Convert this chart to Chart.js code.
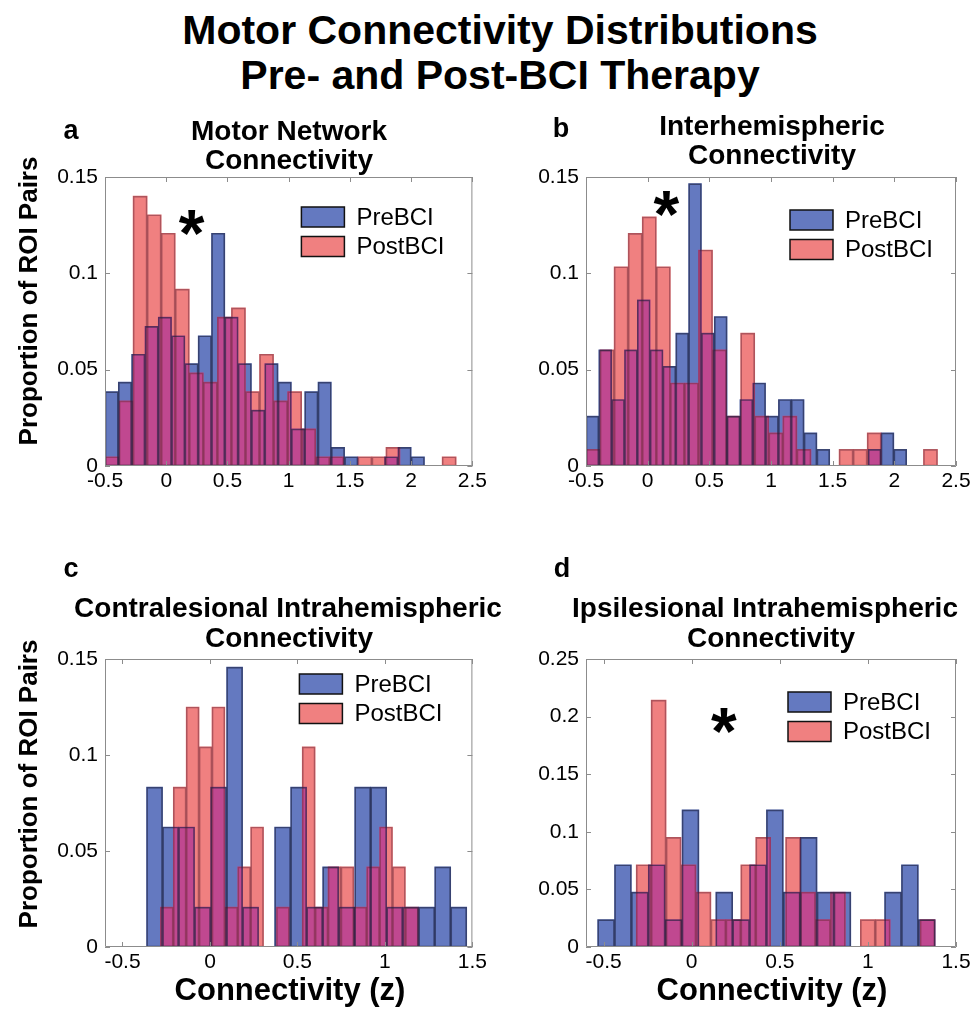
<!DOCTYPE html>
<html>
<head>
<meta charset="utf-8">
<script src="https://cdn.jsdelivr.net/npm/chart.js@4.4.1/dist/chart.umd.min.js"></script>
<style>
  body { margin: 0; background: #fff; }
  #fig { position: relative; width: 975px; height: 1011px; overflow: hidden; font-family: "Liberation Sans", Arial, sans-serif; color: #000; }
  #fig canvas { position: absolute; }
  .t { position: absolute; font-weight: bold; white-space: nowrap; line-height: 1; }
</style>
</head>
<body>
<div id="fig">
  <canvas id="pa" width="490" height="420" style="left:0;top:100px"></canvas>
  <canvas id="pb" width="485" height="420" style="left:490px;top:100px"></canvas>
  <canvas id="pc" width="490" height="431" style="left:0;top:580px"></canvas>
  <canvas id="pd" width="485" height="431" style="left:490px;top:580px"></canvas>
</div>
<script>
// ---- data (proportion of ROI pairs per bin) ----
// each series: left edge of first bin, bin width, bar heights
const aPreEdge0 = -0.5, aPreBinW = 0.1087;
const aPre = [0.0386, 0.0435, 0.058, 0.0725, 0.0773, 0.0676, 0.0531, 0.0676, 0.1208, 0.0773, 0.0531, 0.029,
  0.0531, 0.0435, 0.0193, 0.0386, 0.0435, 0.0097, 0.0048, 0, 0, 0.0048, 0.0097, 0.0048];
const aPostEdge0 = -0.5, aPostBinW = 0.1147;
const aPost = [0.0048, 0.0338, 0.1401, 0.1304, 0.1208, 0.0918, 0.0483, 0.0435, 0.0773, 0.0821, 0.0386, 0.058,
  0.0338, 0.0386, 0.0193, 0.0048, 0.0048, 0, 0.0048, 0.0048, 0.0097, 0, 0, 0, 0.0048];

const bPreEdge0 = -0.5, bPreBinW = 0.104;
const bPre = [0.0259, 0.0603, 0.0345, 0.0603, 0.0862, 0.0603, 0.0517, 0.069, 0.1466, 0.069, 0.0776, 0.0259,
  0.0345, 0.0431, 0.0259, 0.0345, 0.0345, 0.0172, 0.0086, 0, 0, 0, 0.0086, 0.0172, 0.0086];
const bPostEdge0 = -0.5, bPostBinW = 0.114;
const bPost = [0.0086, 0.0603, 0.1034, 0.1207, 0.1293, 0.1034, 0.0431, 0.0431, 0.1121, 0.0603, 0.0259, 0.069,
  0.0259, 0.0172, 0.0259, 0.0086, 0, 0, 0.0086, 0.0086, 0.0172, 0, 0, 0, 0.0086];

const cPreEdge0 = -0.3625, cPreBinW = 0.0915;
const cPre = [0.0833, 0.0625, 0.0625, 0.0208, 0.0833, 0.1458, 0.0208, 0, 0.0625, 0.0833, 0.0208, 0.0417,
  0.0208, 0.0833, 0.0833, 0.0208, 0.0208, 0.0208, 0.0417, 0.0208];
const cPostEdge0 = -0.2834, cPostBinW = 0.0737;
const cPost = [0.0208, 0.0833, 0.125, 0.1042, 0.125, 0.0208, 0.0417, 0.0625, 0, 0.0208, 0, 0.1042,
  0.0208, 0.0417, 0.0417, 0.0208, 0.0417, 0.0625, 0.0417, 0.0208];

const dPreEdge0 = -0.534, dPreBinW = 0.0958;
const dPre = [0.0238, 0.0714, 0.0476, 0.0714, 0.0238, 0.119, 0, 0.0476, 0.0238, 0.0714, 0.119, 0.0476,
  0.0952, 0.0476, 0.0476, 0, 0, 0.0476, 0.0714, 0.0238];
const dPostEdge0 = -0.315, dPostBinW = 0.0848;
const dPost = [0.0714, 0.2143, 0.0952, 0.0714, 0.0476, 0.0238, 0.0238, 0.0714, 0.0952, 0, 0.0952, 0.0476,
  0.0238, 0.0476, 0, 0.0238, 0.0238, 0, 0, 0.0238];

const xTicksTop = [-0.5, 0, 0.5, 1, 1.5, 2, 2.5];
const xTicksBottom = [-0.5, 0, 0.5, 1, 1.5];
const yTicks15 = [0, 0.05, 0.1, 0.15];
const yTicks25 = [0, 0.05, 0.1, 0.15, 0.2, 0.25];
const seriesNames = ['PreBCI', 'PostBCI'];

// significance markers (data coords)
const starA = [0.207, 0.1264];
const starB = [0.151, 0.1363];
const starD = [0.182, 0.197];

// ---- styles ----
const preColor = '#6479c0';
const postColor = '#f08080';
const bothColor = '#c04890';
const preEdge = 'rgba(25,30,60,0.6)';
const postEdge = 'rgba(110,40,55,0.5)';
const axisColor = '#8c8c8c';
const fontFam = '"Liberation Sans", Arial, sans-serif';

Chart.defaults.font.family = fontFam;
Chart.defaults.color = '#000';

function bins(edge0, w, values) {
  return values.map((v, i) => ({ x: edge0 + (i + 0.5) * w, y: v }));
}

function panelPlugin(p) {
  return {
    id: 'panel',
    beforeDatasetDraw(chart, args) {
      const ds = chart.data.datasets[args.index];
      chart.ctx.save();
      if (ds.blend) chart.ctx.globalCompositeOperation = ds.blend;
    },
    afterDatasetDraw(chart) {
      chart.ctx.restore();
    },
    afterDatasetsDraw(chart) {
      const { ctx, chartArea: ca, scales } = chart;
      ctx.save();
      ctx.strokeStyle = axisColor;
      ctx.lineWidth = 1;
      ctx.beginPath();
      ctx.rect(ca.left + 0.5, ca.top + 0.5, ca.width - 1, ca.height - 1);
      scales.xPre.ticks.forEach(t => {
        const x = Math.round(scales.xPre.getPixelForValue(t.value)) + 0.5;
        ctx.moveTo(x, ca.bottom); ctx.lineTo(x, ca.bottom - 5);
        ctx.moveTo(x, ca.top); ctx.lineTo(x, ca.top + 5);
      });
      scales.y.ticks.forEach(t => {
        const y = Math.round(scales.y.getPixelForValue(t.value)) + 0.5;
        ctx.moveTo(ca.left, y); ctx.lineTo(ca.left + 5, y);
        ctx.moveTo(ca.right, y); ctx.lineTo(ca.right - 5, y);
      });
      ctx.stroke();

      // legend inside the axes
      const lx = ca.right - p.legend[0];
      let ly = ca.top + p.legend[1];
      [preColor, postColor].forEach((c, i) => {
        ctx.fillStyle = c;
        ctx.fillRect(lx, ly, 43, 20);
        ctx.strokeStyle = '#111';
        ctx.lineWidth = 1.5;
        ctx.strokeRect(lx, ly, 43, 20);
        ctx.fillStyle = '#000';
        ctx.font = '24px ' + fontFam;
        ctx.textBaseline = 'middle';
        ctx.textAlign = 'left';
        ctx.fillText(seriesNames[i], lx + 55, ly + 11);
        ly += 29.5;
      });

      if (p.star) {
        const sx = scales.xPre.getPixelForValue(p.star[0]);
        const sy = scales.y.getPixelForValue(p.star[1]);
        ctx.font = 'bold 66px ' + fontFam;
        ctx.textAlign = 'center';
        ctx.textBaseline = 'alphabetic';
        const m = ctx.measureText('*');
        ctx.fillText('*', sx, sy + (m.actualBoundingBoxAscent - m.actualBoundingBoxDescent) / 2);
      }
      ctx.restore();
    }
  };
}

function makePanel(id, p) {
  const preData = bins(p.preEdge0, p.preBinW, p.pre);
  const postData = bins(p.postEdge0, p.postBinW, p.post);
  const bar = { barPercentage: 1, categoryPercentage: 1, grouped: false, borderSkipped: false };
  const fixTicks = list => scale => { scale.ticks = list.map(v => ({ value: v })); };
  const tickFont = { size: 21 };

  new Chart(document.getElementById(id), {
    type: 'bar',
    data: {
      datasets: [
        { ...bar, label: 'PreBCI', data: preData, xAxisID: 'xPre', backgroundColor: preColor, borderWidth: 0, order: 5 },
        { ...bar, label: 'overlap', data: postData, xAxisID: 'xPost', backgroundColor: bothColor, borderWidth: 0, order: 4, blend: 'source-atop' },
        { ...bar, label: 'PostBCI', data: postData, xAxisID: 'xPost', backgroundColor: postColor, borderWidth: 0, order: 3, blend: 'destination-over' },
        { ...bar, label: 'postEdge', data: postData, xAxisID: 'xPost', backgroundColor: 'rgba(0,0,0,0)', borderColor: postEdge, borderWidth: 1, order: 2 },
        { ...bar, label: 'preEdge', data: preData, xAxisID: 'xPre', backgroundColor: 'rgba(0,0,0,0)', borderColor: preEdge, borderWidth: 1, order: 1 }
      ]
    },
    options: {
      responsive: false,
      animation: false,
      events: [],
      devicePixelRatio: 1,
      layout: { padding: { left: 0, top: p.padTop, right: p.padRight, bottom: 0 } },
      plugins: { legend: { display: false }, tooltip: { enabled: false }, title: { display: false } },
      scales: {
        xPre: {
          type: 'linear', position: 'bottom', min: p.xMin, max: p.xMax, offset: false,
          grid: { display: false, drawTicks: false }, border: { display: false },
          ticks: { font: tickFont, padding: 3, maxRotation: 0, autoSkip: false, callback: v => String(v) },
          afterBuildTicks: fixTicks(p.xTicks),
          afterFit: s => { s.height = p.xAxisH; }
        },
        xPost: {
          type: 'linear', position: 'bottom', display: false, min: p.xMin, max: p.xMax, offset: false,
          afterBuildTicks: fixTicks(p.xTicks)
        },
        y: {
          min: 0, max: p.yMax,
          grid: { display: false, drawTicks: false }, border: { display: false },
          ticks: { font: tickFont, padding: 7, callback: v => String(v) },
          afterBuildTicks: fixTicks(p.yTicks),
          afterFit: s => { s.width = p.yAxisW; }
        }
      }
    },
    plugins: [panelPlugin(p)]
  });
}

makePanel('pa', {
  pre: aPre, preEdge0: aPreEdge0, preBinW: aPreBinW, post: aPost, postEdge0: aPostEdge0, postBinW: aPostBinW,
  xMin: -0.5, xMax: 2.5, xTicks: xTicksTop, yMax: 0.15, yTicks: yTicks15,
  padTop: 77, padRight: 17, xAxisH: 54, yAxisW: 105, legend: [171, 30], star: starA
});
makePanel('pb', {
  pre: bPre, preEdge0: bPreEdge0, preBinW: bPreBinW, post: bPost, postEdge0: bPostEdge0, postBinW: bPostBinW,
  xMin: -0.5, xMax: 2.5, xTicks: xTicksTop, yMax: 0.15, yTicks: yTicks15,
  padTop: 77, padRight: 19, xAxisH: 54, yAxisW: 96, legend: [166, 33], star: starB
});
makePanel('pc', {
  pre: cPre, preEdge0: cPreEdge0, preBinW: cPreBinW, post: cPost, postEdge0: cPostEdge0, postBinW: cPostBinW,
  xMin: -0.6, xMax: 1.5, xTicks: xTicksBottom, yMax: 0.15, yTicks: yTicks15,
  padTop: 79, padRight: 16, xAxisH: 64, yAxisW: 105, legend: [173, 15], star: null
});
makePanel('pd', {
  pre: dPre, preEdge0: dPreEdge0, preBinW: dPreBinW, post: dPost, postEdge0: dPostEdge0, postBinW: dPostBinW,
  xMin: -0.6, xMax: 1.5, xTicks: xTicksBottom, yMax: 0.25, yTicks: yTicks25,
  padTop: 79, padRight: 19, xAxisH: 64, yAxisW: 96, legend: [168, 33], star: starD
});

// ---- text around the axes ----
const fig = document.getElementById('fig');
const labels = [
  ['Motor Connectivity Distributions', 500, 30, 41],
  ['Pre- and Post-BCI Therapy', 500, 75, 41],
  ['a', 71, 130, 27], ['b', 561, 128, 27], ['c', 71, 568, 27], ['d', 562, 568, 27],
  ['Motor Network', 289, 131, 28], ['Connectivity', 289, 160, 28],
  ['Interhemispheric', 772, 126, 28], ['Connectivity', 772, 155, 28],
  ['Contralesional Intrahemispheric', 288, 608, 28], ['Connectivity', 289, 638, 28],
  ['Ipsilesional Intrahemispheric', 765, 608, 28], ['Connectivity', 771, 638, 28],
  ['Connectivity (z)', 290, 989, 31], ['Connectivity (z)', 772, 989, 31],
  ['Proportion of ROI Pairs', 28, 301, 26, true], ['Proportion of ROI Pairs', 28, 784, 26, true]
];
labels.forEach(([text, x, y, size, rot]) => {
  const d = document.createElement('div');
  d.className = 't';
  d.textContent = text;
  d.style.fontSize = size + 'px';
  d.style.left = x + 'px';
  d.style.top = y + 'px';
  d.style.transform = 'translate(-50%, -50%)' + (rot ? ' rotate(-90deg)' : '');
  fig.appendChild(d);
});
</script>
</body>
</html>
